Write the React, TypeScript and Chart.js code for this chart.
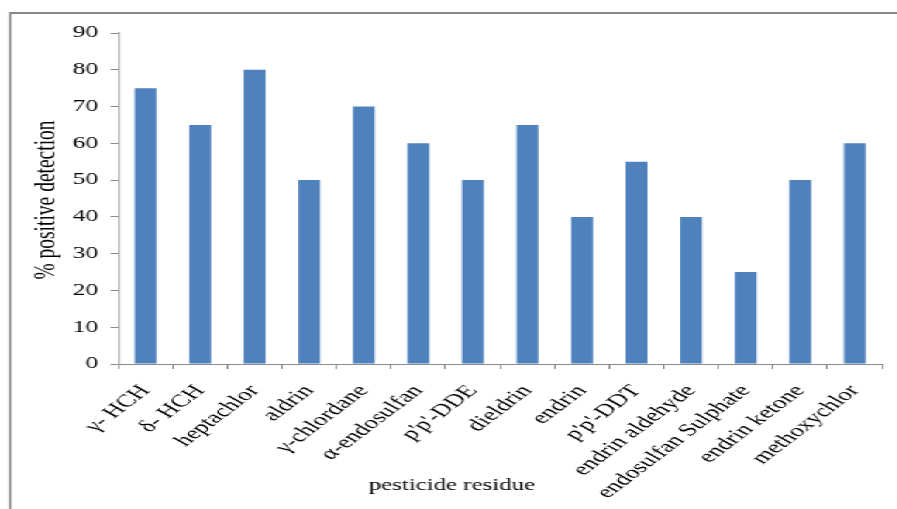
import React, { useEffect, useRef } from "react";
import { Chart, registerables } from "chart.js";

Chart.register(...registerables);

const categories = [
  "γ- HCH",
  "δ- HCH",
  "heptachlor",
  "aldrin",
  "γ-chlordane",
  "α-endosulfan",
  "p'p'-DDE",
  "dieldrin",
  "endrin",
  "p'p'-DDT",
  "endrin aldehyde",
  "endosulfan Sulphate",
  "endrin ketone",
  "methoxychlor",
];
const detection = [75, 65, 80, 50, 70, 60, 50, 65, 40, 55, 40, 25, 50, 60];
const yTicksMax = 90;
const yTicksStep = 10;
const xTitle = "pesticide residue";
const yTitle = "% positive detection";

const SX = 1.55;
const W = 897 / SX;
const H = 509;
const FONT = "'Liberation Serif', 'Times New Roman', serif";

const framePlugin = {
  id: "frameAndTitles",
  beforeDraw(chart: any) {
    const ctx = chart.ctx;
    ctx.save();
    ctx.strokeStyle = "#8a8a8a";
    ctx.lineWidth = 2;
    ctx.beginPath();
    ctx.moveTo(6.5, 13);
    ctx.lineTo(W + 2, 13);
    ctx.stroke();
    ctx.lineWidth = 1.5;
    ctx.beginPath();
    ctx.moveTo(6.5, 12);
    ctx.lineTo(6.5, H + 2);
    ctx.stroke();
    ctx.restore();
  },
  afterDraw(chart: any) {
    const ctx = chart.ctx;
    ctx.save();
    ctx.fillStyle = "#000";
    ctx.textAlign = "center";
    ctx.textBaseline = "middle";
    ctx.font = `16px ${FONT}`;
    ctx.fillText(xTitle, 451 / SX, 486);
    ctx.translate(46 / SX, 200);
    ctx.rotate(-Math.PI / 2);
    ctx.font = `19.5px ${FONT}`;
    ctx.fillText(yTitle, 0, 0);
    ctx.restore();
  },
};

export default function App() {
  const ref = useRef<HTMLCanvasElement>(null);
  useEffect(() => {
    if (!ref.current) return;
    const chart = new Chart(ref.current, {
      type: "bar",
      data: {
        labels: categories,
        datasets: [
          {
            data: detection,
            backgroundColor: "#4F81BD",
            borderWidth: 0,
            barPercentage: 0.4,
            categoryPercentage: 1,
          },
        ],
      },
      options: {
        animation: false,
        responsive: true,
        maintainAspectRatio: false,
        layout: { padding: { left: 0, top: 33, right: W - 889 / SX, bottom: 0 } },
        plugins: { legend: { display: false }, tooltip: { enabled: false } },
        scales: {
          x: {
            grid: { drawOnChartArea: false, drawTicks: true, tickLength: 5, color: "#8a8a8a", offset: true },
            border: { display: true, color: "#8a8a8a", width: 1 },
            ticks: {
              autoSkip: false,
              minRotation: 49.5,
              maxRotation: 49.5,
              padding: 12,
              color: "#000",
              font: { family: FONT, size: 17.5 },
            },
            afterFit: (scale: any) => {
              scale.height = H - 364;
            },
          },
          y: {
            min: 0,
            max: yTicksMax,
            grid: { drawOnChartArea: false, drawTicks: true, tickLength: 5, color: "#8a8a8a" },
            border: { display: true, color: "#a0a0a0", width: 1.2 },
            ticks: {
              stepSize: yTicksStep,
              padding: 8,
              color: "#000",
              font: { family: FONT, size: 16.5 },
            },
            afterFit: (scale: any) => {
              scale.width = 118 / SX;
            },
          },
        },
      },
      plugins: [framePlugin],
    });
    return () => chart.destroy();
  }, []);
  return (
    <div
      style={{
        position: "fixed",
        left: 0,
        top: 0,
        width: W,
        height: H,
        transform: `scaleX(${SX})`,
        transformOrigin: "0 0",
        background: "#fff",
      }}
    >
      <canvas ref={ref} />
    </div>
  );
}
